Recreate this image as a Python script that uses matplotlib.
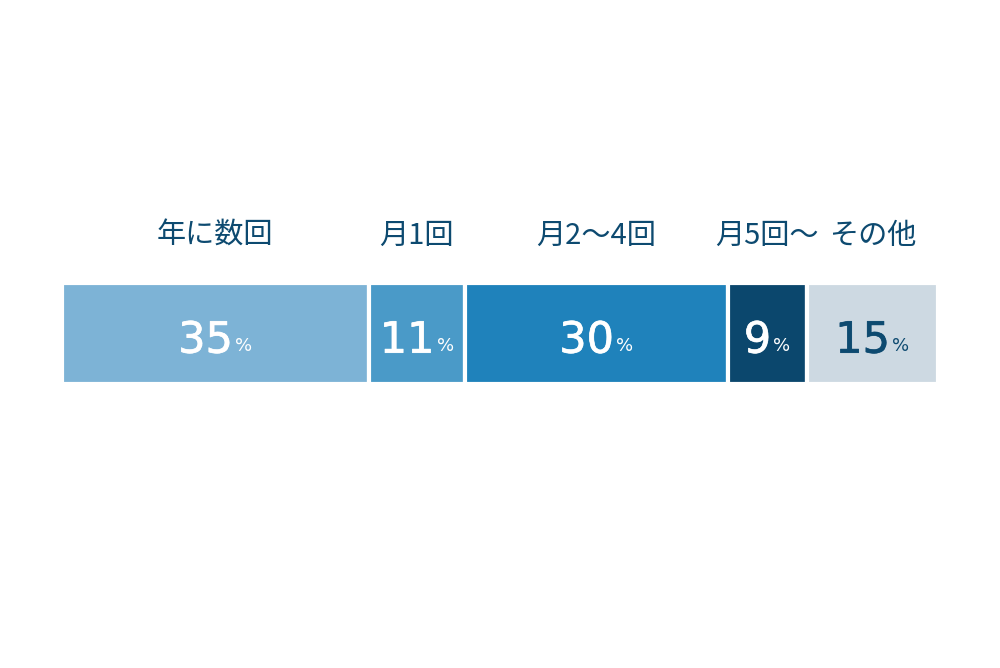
import matplotlib
matplotlib.use("Agg")
import matplotlib.pyplot as plt
import matplotlib.patheffects as pe
import numpy as np

plt.rcParams['font.family'] = ['Noto Sans CJK JP', 'DejaVu Sans']

# データ
categories = ["年に数回", "月1回", "月2～4回", "月5回～", "その他"]
values = [35, 11, 30, 9, 15]
colors = ["#7db3d6", "#4a9ac8", "#1f82bb", "#0b476d", "#cdd9e2"]
text_colors = ["white", "white", "white", "white", "#0d4a70"]
label_color = "#0d4a70"

fig = plt.figure(figsize=(10, 6.68), dpi=100)
ax = fig.add_axes([0.062, 1 - 384 / 668, 0.876, 101 / 668])

lefts = np.concatenate([[0], np.cumsum(values)[:-1]])
ax.barh(0.5, values, left=lefts, height=1.0, color=colors,
        edgecolor="white", linewidth=3)

ax.set_xlim(0, sum(values))
ax.set_ylim(0, 1)
ax.axis("off")

for cat, v, l, tc in zip(categories, values, lefts, text_colors):
    cx = l + v / 2
    # カテゴリ名
    ax.text(cx, 1.47, cat, ha="center", va="center", fontsize=21,
            color=label_color, clip_on=False)
    # 数値と%
    thick = [pe.withStroke(linewidth=0.5, foreground=tc)]
    num = ax.annotate(str(v), xy=(cx, 0.31), xycoords="data",
                      xytext=(-7, 0), textcoords="offset points",
                      ha="center", va="baseline", fontsize=31,
                      color=tc, family="DejaVu Sans", path_effects=thick)
    ax.annotate("%", xy=(1, 0), xycoords=num, xytext=(1.5, 4.5),
                textcoords="offset points", ha="left", va="bottom",
                fontsize=13, color=tc, family="DejaVu Sans")

fig.savefig("out.png", dpi=100)
